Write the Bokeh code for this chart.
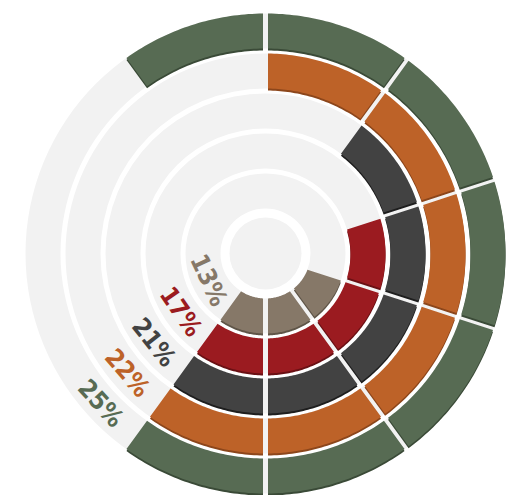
import math
from bokeh.plotting import figure
from bokeh.models import Range1d
from bokeh.embed import file_html
from bokeh.resources import INLINE
from bokeh.core.properties import value

# ---- data ----
ring_labels = ["13%", "17%", "21%", "22%", "25%"]      # inner -> outer
ring_values = [13, 17, 21, 22, 25]
first_sector = [3, 2, 1, 0, -1]   # first filled 36-degree sector (clockwise from top)
last_sector = [5, 5, 5, 5, 5]     # last filled sector
n_sectors = 10
ring_colors = ["#867868", "#9b1b20", "#424242", "#bd6228", "#576b53"]
shadow_colors = ["#5f5548", "#6a1014", "#1e1e1e", "#8c461b", "#3a4a37"]
track_color = "#f2f2f2"

# ---- layout ----
W, H = 508, 495
cx, cy = 265.0, H - 253.0
ring_inner0, ring_width, ring_step = 45.0, 35.0, 40.0
center_disk = 36.0
half_gap = 2.5
shadow_dy = 2.0
label_end_deg = 221.0
label_font_px = 25
label_half_w = 26.0

p = figure(width=W, height=H, x_range=Range1d(0, W), y_range=Range1d(0, H),
           x_axis_type=None, y_axis_type=None, output_backend="svg",
           toolbar_location=None, min_border=0)
p.grid.visible = False
p.outline_line_color = None
p.background_fill_color = "white"
p.border_fill_color = "white"

n = len(ring_values)
r_in = [ring_inner0 + ring_step * i for i in range(n)]
r_out = [r + ring_width for r in r_in]

# tracks
p.annulus(x=[cx] * n, y=[cy] * n, inner_radius=r_in, outer_radius=r_out,
          fill_color=track_color, line_color=None)
p.circle(x=[cx], y=[cy], radius=center_disk, fill_color=track_color, line_color=None)


def pt(r, deg):
    a = math.radians(deg)
    return cx + r * math.sin(a), cy + r * math.cos(a)


def seg_poly(ri, ro, a0, a1, steps=40):
    do = math.degrees(math.asin(half_gap / ro))
    di = math.degrees(math.asin(half_gap / ri))
    xs, ys = [], []
    for k in range(steps + 1):
        d = (a0 + do) + (a1 - a0 - 2 * do) * k / steps
        x, y = pt(ro, d)
        xs.append(x); ys.append(y)
    for k in range(steps + 1):
        d = (a1 - di) - (a1 - a0 - 2 * di) * k / steps
        x, y = pt(ri, d)
        xs.append(x); ys.append(y)
    return xs, ys


sector_deg = 360.0 / n_sectors
sh_xs, sh_ys, sh_c = [], [], []
m_xs, m_ys, m_c = [], [], []
for i in range(n):
    for s in range(first_sector[i], last_sector[i] + 1):
        xs, ys = seg_poly(r_in[i], r_out[i], s * sector_deg, (s + 1) * sector_deg)
        m_xs.append(xs); m_ys.append(ys); m_c.append(ring_colors[i])
        sh_xs.append(xs); sh_ys.append([y - shadow_dy for y in ys]); sh_c.append(shadow_colors[i])

p.patches(xs=sh_xs, ys=sh_ys, fill_color=sh_c, line_color=None)
p.patches(xs=m_xs, ys=m_ys, fill_color=m_c, line_color=None)

# labels
lx, ly, la, lt, lc = [], [], [], [], []
for i in range(n):
    rm = (r_in[i] + r_out[i]) / 2
    theta = label_end_deg + math.degrees(label_half_w / rm)
    x, y = pt(rm, theta)
    lx.append(x); ly.append(y)
    la.append(math.radians(180.0 - theta))
    lt.append(f"{ring_values[i]}%")
    lc.append(ring_colors[i])

p.text(x=lx, y=ly, text=lt, angle=la, text_color=lc,
       text_font=value("DejaVu Sans Condensed"), text_font_style="bold",
       text_font_size=f"{label_font_px}px", text_align="center", text_baseline="middle")

open("out.html", "w").write(file_html(p, INLINE))
